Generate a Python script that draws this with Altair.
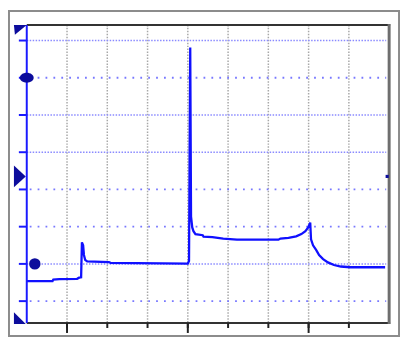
import altair as alt
import pandas as pd

# ---- data (in screen divisions) ----
trace_t = [0.00, 0.64, 0.66, 0.81, 1.25, 1.30, 1.35, 1.37, 1.40, 1.42, 1.45, 1.50, 2.04, 2.08,
           4.00, 4.03, 4.06, 4.08, 4.11, 4.14, 4.19, 4.37, 4.39, 4.61, 4.88, 5.22, 6.25, 6.30,
           6.50, 6.69, 6.82, 6.92, 6.99, 7.04, 7.06, 7.11, 7.19, 7.26, 7.36, 7.48, 7.63, 7.80,
           8.04, 8.90]
trace_v = [-0.46, -0.46, -0.42, -0.41, -0.40, -0.37, -0.36, 0.58, 0.50, 0.24, 0.11, 0.07, 0.05, 0.03,
           0.01, 0.08, 5.81, 1.27, 0.98, 0.88, 0.80, 0.77, 0.73, 0.72, 0.68, 0.65, 0.65, 0.68,
           0.70, 0.74, 0.80, 0.88, 0.98, 1.11, 0.66, 0.50, 0.37, 0.24, 0.13, 0.04, -0.03, -0.07,
           -0.09, -0.09]

grid_x = [1, 2, 3, 4, 5, 6, 7, 8]
major_x = [1, 4, 7]
grid_y_dense = [6, 4, 3, 0]
grid_y_sparse = [5, 2, 1, -1]
grid_y_all = [-1, 0, 1, 2, 3, 4, 5, 6]

marker1 = {"x": [0.0], "y": [5.0]}      # ellipse marker
marker2 = {"x": [0.2], "y": [0.0]}      # round ground marker
trigger_level = [2.35]

X_DOMAIN = [0, 9]
Y_DOMAIN = [-1.59, 6.42]
W, H = 367, 302

xs = alt.Scale(domain=X_DOMAIN, nice=False, zero=False)
ys = alt.Scale(domain=Y_DOMAIN, nice=False, zero=False)

one = pd.DataFrame({"a": [0]})
trace_df = pd.DataFrame({"t": trace_t, "v": trace_v})

layers = []

# outer frame
layers.append(alt.Chart(one).mark_rect(fillOpacity=0, stroke="#8c8c8c", strokeWidth=2).encode(
    x=alt.value(-18), x2=alt.value(W + 10), y=alt.value(-14), y2=alt.value(H + 13)))

# vertical gray dotted grid
layers.append(alt.Chart(pd.DataFrame({"x": grid_x})).mark_rule(
    color="#a8a8a8", strokeWidth=1.5, strokeDash=[1.5, 1.5]).encode(
    x=alt.X("x:Q", scale=xs, axis=None), y=alt.value(0), y2=alt.value(H)))

# horizontal blue dotted grid
layers.append(alt.Chart(pd.DataFrame({"y": grid_y_dense})).mark_rule(
    color="#8a8aff", strokeWidth=1.5, strokeDash=[1.5, 1.5]).encode(
    y=alt.Y("y:Q", scale=ys, axis=None), x=alt.value(0), x2=alt.value(W - 3)))
layers.append(alt.Chart(pd.DataFrame({"y": grid_y_sparse})).mark_rule(
    color="#7878ff", strokeWidth=1.8, strokeDash=[1.8, 6.2]).encode(
    y=alt.Y("y:Q", scale=ys, axis=None), x=alt.value(3), x2=alt.value(W - 3)))

# borders
layers.append(alt.Chart(one).mark_rule(color="#333333", strokeWidth=2).encode(
    x=alt.value(0), x2=alt.value(W + 1), y=alt.value(0)))
layers.append(alt.Chart(one).mark_rule(color="#333333", strokeWidth=2).encode(
    x=alt.value(0), x2=alt.value(W + 1), y=alt.value(H)))
layers.append(alt.Chart(one).mark_rule(color="#6e6e6e", strokeWidth=3).encode(
    x=alt.value(W), y=alt.value(-1), y2=alt.value(H + 1)))

# bottom ticks
layers.append(alt.Chart(pd.DataFrame({"x": grid_x})).mark_rule(color="#222222", strokeWidth=2).encode(
    x=alt.X("x:Q", scale=xs, axis=None), y=alt.value(H), y2=alt.value(H + 5)))
layers.append(alt.Chart(pd.DataFrame({"x": major_x})).mark_rule(color="#222222", strokeWidth=2).encode(
    x=alt.X("x:Q", scale=xs, axis=None), y=alt.value(H), y2=alt.value(H + 10)))

# left ticks
layers.append(alt.Chart(pd.DataFrame({"y": grid_y_all})).mark_rule(color="#1a1aff", strokeWidth=2).encode(
    y=alt.Y("y:Q", scale=ys, axis=None), x=alt.value(-8), x2=alt.value(0)))

# trace
layers.append(alt.Chart(trace_df).mark_line(color="#1010ff", strokeWidth=2.3, interpolate="linear").encode(
    x=alt.X("t:Q", scale=xs, axis=None), y=alt.Y("v:Q", scale=ys, axis=None)))

# left blue axis line
layers.append(alt.Chart(one).mark_rule(color="#1a1aff", strokeWidth=2).encode(
    x=alt.value(0), y=alt.value(0), y2=alt.value(H)))

# markers
ellipse = "M-7,0 A7,5 0 1,0 7,0 A7,5 0 1,0 -7,0 Z"
layers.append(alt.Chart(pd.DataFrame(marker1)).mark_point(
    shape=ellipse, size=4, filled=True, color="#0c0c9c", opacity=1).encode(
    x=alt.X("x:Q", scale=xs, axis=None), y=alt.Y("y:Q", scale=ys, axis=None)))
layers.append(alt.Chart(pd.DataFrame(marker2)).mark_circle(
    size=133, color="#0c0c9c", opacity=1).encode(
    x=alt.X("x:Q", scale=xs, axis=None), y=alt.Y("y:Q", scale=ys, axis=None)))

tri_right = "M-13,-11 L-1,0 L-13,11 Z"
layers.append(alt.Chart(pd.DataFrame({"y": trigger_level})).mark_point(
    shape=tri_right, size=4, filled=True, color="#0c0c9c", opacity=1).encode(
    x=alt.value(0), y=alt.Y("y:Q", scale=ys, axis=None)))
layers.append(alt.Chart(pd.DataFrame({"y": trigger_level})).mark_square(
    size=10, color="#0c0c9c", opacity=1).encode(
    x=alt.value(W - 2), y=alt.Y("y:Q", scale=ys, axis=None)))

tri_top = "M-13,0 L0,0 L-12,10 Z"
layers.append(alt.Chart(one).mark_point(
    shape=tri_top, size=4, filled=True, color="#0c0c9c", opacity=1).encode(
    x=alt.value(0), y=alt.value(0)))
tri_bot = "M-13,-11 L-13,1 L-1,1 Z"
layers.append(alt.Chart(one).mark_point(
    shape=tri_bot, size=4, filled=True, color="#0c0c9c", opacity=1).encode(
    x=alt.value(0), y=alt.value(H)))

chart = alt.layer(*layers).properties(
    width=W, height=H,
    padding={"left": 19, "top": 15, "right": 11, "bottom": 14},
    autosize=alt.AutoSizeParams(type="none"),
    background="white",
).configure_view(stroke=None)

chart.save("out.html", embed_options={"renderer": "svg", "actions": False})
